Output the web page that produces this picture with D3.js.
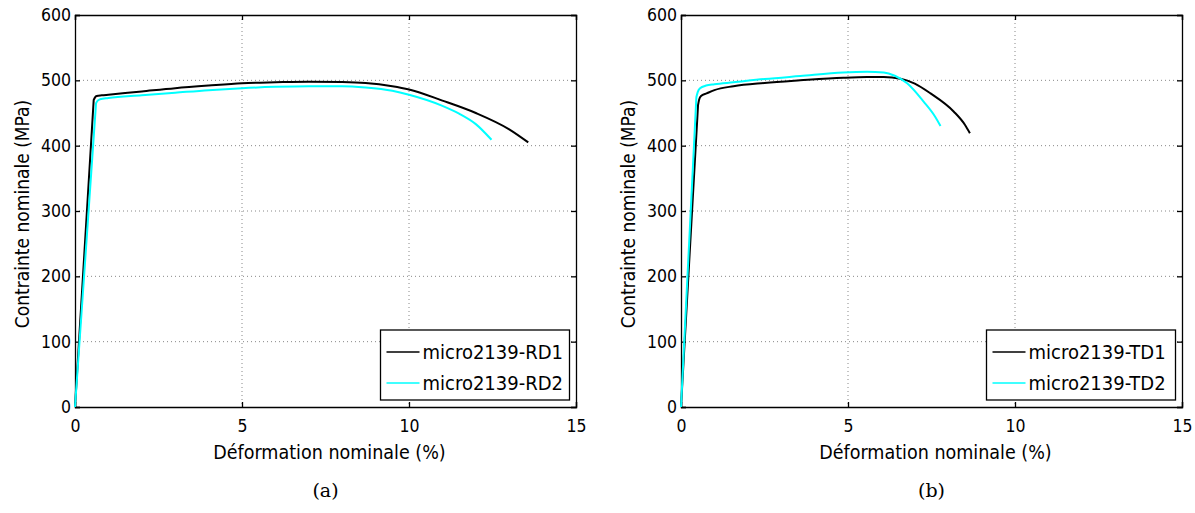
<!DOCTYPE html>
<html><head><meta charset="utf-8">
<script src="https://cdn.jsdelivr.net/npm/d3@7"></script>
<style>
body{margin:0;background:#fff;}
svg text{font-family:"DejaVu Sans",sans-serif;font-stretch:condensed;}
</style></head>
<body><svg id="c" width="1195" height="513"></svg>
<script>
const xTicks=[0,5,10,15];
const yTicks=[0,100,200,300,400,500,600];
const xLabel="Déformation nominale (%)";
const yLabel="Contrainte nominale (MPa)";

const rd1Strain=[0,0.56,0.6,0.65,0.8,1,2,3,4,5,6,7,8,8.7,9.5,10,11,12,13,13.57];
const rd1Stress=[0,470,474,476,477,478,483,488,492,495.5,497,498,497.5,496,491,486,469,450,425,405];
const rd2Strain=[0,0.63,0.68,0.75,1,2,3,4,5,6,7,8,8.7,9.5,10,11,11.5,12,12.47];
const rd2Stress=[0,465,469,471,473,477,481,485,488,490,491,491,489,484,478,461,449,433,409];
const td1Strain=[0,0.51,0.54,0.6,0.77,1,1.57,2.5,3.57,4.86,5.57,6.07,6.57,7,7.47,8.17,8.5,8.65];
const td1Stress=[0,462,470,476,480,485,491,496,500,504,505,505,502.5,495,480,452,432,419];
const td2Strain=[0,0.46,0.5,0.57,0.75,1,1.57,2.5,3.57,4.86,5.57,6.07,6.4,6.77,7.27,7.6,7.77];
const td2Stress=[0,474,482,488,492,494,497,502,506.6,512,513,512,507,495.5,467,445,430];

const panels=[
 {left:75,caption:"(a)",series:[
   {name:"micro2139-RD1",color:"#000000",x:rd1Strain,y:rd1Stress},
   {name:"micro2139-RD2",color:"#00ffff",x:rd2Strain,y:rd2Stress}]},
 {left:681,caption:"(b)",series:[
   {name:"micro2139-TD1",color:"#000000",x:td1Strain,y:td1Stress},
   {name:"micro2139-TD2",color:"#00ffff",x:td2Strain,y:td2Stress}]}
];

const svg=d3.select("#c");
svg.append("rect").attr("width",1195).attr("height",513).attr("fill","#fff");
const W=501,H=392,plotTop=15;

panels.forEach(p=>{
  const g=svg.append("g").attr("transform",`translate(${p.left},${plotTop})`);
  const x=d3.scaleLinear().domain([0,15]).range([0,W]);
  const y=d3.scaleLinear().domain([0,600]).range([H,0]);
  g.selectAll(".gx").data(xTicks.filter(t=>t>0&&t<15)).enter().append("line")
   .attr("x1",d=>x(d)).attr("x2",d=>x(d)).attr("y1",0).attr("y2",H)
   .attr("stroke","#888").attr("stroke-width",1).attr("stroke-dasharray","1,3");
  g.selectAll(".gy").data(yTicks.filter(t=>t>0&&t<600)).enter().append("line")
   .attr("y1",d=>y(d)).attr("y2",d=>y(d)).attr("x1",0).attr("x2",W)
   .attr("stroke","#888").attr("stroke-width",1).attr("stroke-dasharray","1,3");
  const ax=g.append("g").attr("transform",`translate(0,${H})`)
   .call(d3.axisBottom(x).tickValues(xTicks).tickSize(-5).tickPadding(13).tickFormat(d3.format("d")));
  const ay=g.append("g").call(d3.axisLeft(y).tickValues(yTicks).tickSize(-5).tickPadding(4).tickFormat(d3.format("d")));
  const axT=g.append("g").call(d3.axisTop(x).tickValues(xTicks).tickSize(-5).tickFormat(""));
  const ayR=g.append("g").attr("transform",`translate(${W},0)`).call(d3.axisRight(y).tickValues(yTicks).tickSize(-5).tickFormat(""));
  [ax,ay,axT,ayR].forEach(a=>{
    a.select(".domain").attr("stroke","#000").attr("stroke-width",1.3);
    a.selectAll(".tick line").attr("stroke","#000").attr("stroke-width",1.3);
    a.selectAll("text").attr("font-size",17.5).attr("fill","#000").attr("font-family","DejaVu Sans");
  });
  const line=d3.line().curve(d3.curveMonotoneX);
  p.series.forEach(s=>{
    const pts=s.x.map((v,i)=>[x(v),y(s.y[i])]);
    const d=`M${pts[0][0]},${pts[0][1]}L`+line(pts.slice(1)).slice(1);
    g.append("path").attr("d",d).attr("fill","none")
     .attr("stroke",s.color).attr("stroke-width",2).attr("stroke-linejoin","round");
  });
  const lg=g.append("g").attr("transform",`translate(${W-195.5},${315})`);
  lg.append("rect").attr("x",0).attr("y",0).attr("width",189).attr("height",70)
   .attr("fill","#fff").attr("stroke","#000").attr("stroke-width",1.3);
  p.series.forEach((s,i)=>{
    const yy=22+i*31;
    lg.append("line").attr("x1",6).attr("x2",39).attr("y1",yy).attr("y2",yy)
      .attr("stroke",s.color).attr("stroke-width",1.5);
    lg.append("text").attr("x",42).attr("y",yy).attr("dy","0.36em")
      .attr("font-size",20).text(s.name);
  });
  g.append("text").attr("x",W/2+4).attr("y",H+52).attr("text-anchor","middle")
   .attr("font-size",19.5).text(xLabel);
  g.append("text").attr("transform",`translate(-46,${H/2+3}) rotate(-90)`).attr("text-anchor","middle")
   .attr("font-size",19).text(yLabel);
  g.append("text").attr("x",W/2).attr("y",H+90).attr("text-anchor","middle")
   .attr("font-size",19).style("font-family","'DejaVu Serif',serif").style("font-stretch","normal").text(p.caption);
});
</script></body></html>
